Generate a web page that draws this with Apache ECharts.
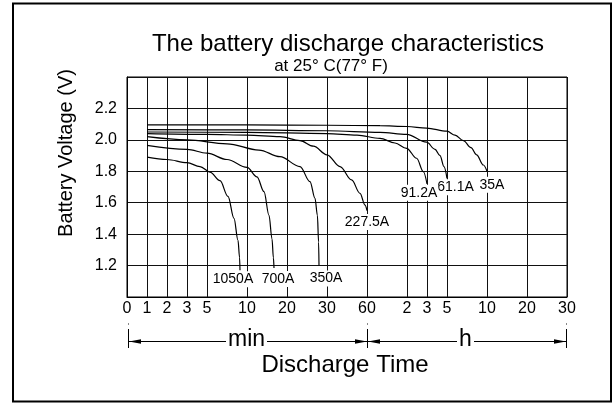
<!DOCTYPE html>
<html>
<head>
<meta charset="utf-8">
<script src="https://cdn.jsdelivr.net/npm/echarts@6/dist/echarts.min.js"></script>
<style>html,body{margin:0;padding:0;background:#fff;}#c{width:616px;height:405px;}</style>
</head>
<body>
<div id="c"></div>
<script>
// ---- data ----
const xTickPos = [0, 1, 2, 3, 4, 6, 8, 10, 12, 14, 15, 16, 18, 20, 22];
const xTickLabels = ['0', '1', '2', '3', '5', '10', '20', '30', '60', '2', '3', '5', '10', '20', '30'];
const curveNames = ['35A', '61.1A', '91.2A', '227.5A', '350A', '700A', '1050A'];
const c35A = [[1,2.095],[6,2.095],[10,2.093],[12.65,2.09],[14,2.085],[14.98,2.075],[16,2.055],[16.4,2.03],[16.82,1.995],[17.2,1.95],[17.48,1.905],[17.82,1.84],[18,1.80]];
const c61A = [[1,2.065],[6,2.063],[10,2.058],[12.65,2.048],[13.98,2.035],[14.98,1.985],[15.4,1.94],[15.65,1.90],[15.85,1.83],[16,1.755]];
const c91A = [[1,2.05],[6,2.048],[10,2.04],[11.5,2.03],[12.65,2.01],[13.4,1.98],[13.98,1.946],[14.48,1.883],[14.82,1.797],[15,1.72]];
const c227A = [[1,2.04],[4,2.035],[6,2.03],[7.65,2.02],[8.65,1.995],[9.32,1.96],[10,1.905],[10.65,1.83],[11.23,1.745],[11.65,1.66],[11.9,1.585],[12,1.55]];
const c350A = [[1,2.02],[3,2.0],[5,1.975],[6.6,1.935],[7.65,1.893],[8.65,1.83],[9.15,1.734],[9.4,1.628],[9.52,1.52],[9.58,1.35],[9.6,1.20]];
const c700A = [[1,1.965],[3,1.94],[4,1.915],[5,1.875],[6,1.825],[6.5,1.765],[6.85,1.67],[7.1,1.52],[7.25,1.37],[7.32,1.25],[7.35,1.185]];
const c1050A = [[1,1.89],[2,1.875],[3,1.855],[3.65,1.83],[4.15,1.795],[4.65,1.74],[5.05,1.64],[5.35,1.50],[5.55,1.36],[5.63,1.25],[5.65,1.17]];
const curves = [c35A, c61A, c91A, c227A, c350A, c700A, c1050A];

// label offsets (style only)
const labelOffsets = [[5,13.5],[8.5,9],[-8,9],[0,11.5],[7,13],[4,11],[-7,9]];

const FONT = '"Liberation Sans", Arial, sans-serif';
const chart = echarts.init(document.getElementById('c'), null, {renderer: 'canvas'});

const series = curves.map((pts, i) => ({
  type: 'line',
  name: curveNames[i],
  data: pts,
  smooth: 0.35,
  smoothMonotone: 'x',
  showSymbol: false,
  silent: true,
  lineStyle: {color: '#000', width: 1.2},
  z: 3,
  markPoint: {
    symbol: 'circle',
    symbolSize: 0.1,
    silent: true,
    itemStyle: {color: 'rgba(0,0,0,0)'},
    label: {
      show: true,
      position: 'inside',
      offset: labelOffsets[i],
      formatter: () => curveNames[i],
      color: '#000',
      fontSize: 14,
      fontFamily: FONT,
      backgroundColor: '#fff',
      padding: [1, 1]
    },
    data: [{coord: pts[pts.length - 1]}]
  }
}));

function txt(x, y, text, size, extra) {
  return Object.assign({
    type: 'text', x: x, y: y, silent: true,
    style: {text: text, fontSize: size, fontFamily: FONT, fill: '#000', align: 'center', verticalAlign: 'middle'}
  }, extra || {});
}
function ln(x1, y1, x2, y2, w, c) {
  return {type: 'line', silent: true, shape: {x1: x1, y1: y1, x2: x2, y2: y2}, style: {stroke: c || '#000', lineWidth: w || 1}};
}
function tri(pts) {
  return {type: 'polygon', silent: true, shape: {points: pts}, style: {fill: '#000'}};
}
const ay = 341.5;

const option = {
  animation: false,
  backgroundColor: '#fff',
  grid: {left: 127, top: 77, width: 440, height: 220, show: true, borderColor: '#000', borderWidth: 1, backgroundColor: 'transparent'},
  xAxis: {
    type: 'value', min: 0, max: 22,
    axisLine: {show: true, lineStyle: {color: '#000', width: 1}},
    axisTick: {show: false, customValues: xTickPos},
    axisLabel: {
      customValues: xTickPos,
      formatter: v => { const k = xTickPos.indexOf(v); return k >= 0 ? xTickLabels[k] : ''; },
      color: '#000', fontSize: 16, fontFamily: FONT, margin: 4
    },
    splitLine: {show: true, lineStyle: {color: '#111', width: 1}}
  },
  yAxis: {
    type: 'value', min: 1.0, max: 2.4, interval: 0.2,
    axisLine: {show: true, lineStyle: {color: '#000', width: 1}},
    axisTick: {show: false},
    axisLabel: {
      formatter: v => (v > 1.05 && v < 2.35) ? v.toFixed(1) : '',
      color: '#000', fontSize: 16, fontFamily: FONT, margin: 10
    },
    splitLine: {show: true, lineStyle: {color: '#111', width: 1}}
  },
  series: series,
  graphic: [
    {type: 'rect', silent: true, shape: {x: 13, y: 3.5, width: 598, height: 398}, style: {fill: 'none', stroke: '#000', lineWidth: 2}},
    txt(348, 44, 'The battery discharge characteristics', 24),
    txt(331, 66, 'at 25° C(77° F)', 17),
    txt(66, 153, 'Battery Voltage (V)', 20, {rotation: Math.PI / 2}),
    txt(246.5, 340, 'min', 23),
    txt(465.5, 340, 'h', 23),
    txt(345, 365, 'Discharge Time', 24),
    ln(128, ay, 226, ay), ln(267, ay, 367, ay),
    ln(367, ay, 457, ay), ln(474, ay, 567, ay),
    ln(128.5, 329, 128.5, 348), ln(367.5, 329, 367.5, 348), ln(566.5, 329, 566.5, 348),
    ln(128.5, 323, 128.5, 325, 1, '#888'), ln(367.5, 323, 367.5, 325, 1, '#888'), ln(566.5, 323, 566.5, 325, 1, '#888'),
    tri([[129, ay], [141, ay - 2.2], [141, ay + 2.2]]),
    tri([[367, ay], [355, ay - 2.2], [355, ay + 2.2]]),
    tri([[368, ay], [380, ay - 2.2], [380, ay + 2.2]]),
    tri([[566, ay], [554, ay - 2.2], [554, ay + 2.2]])
  ]
};
chart.setOption(option);
</script>
</body>
</html>
